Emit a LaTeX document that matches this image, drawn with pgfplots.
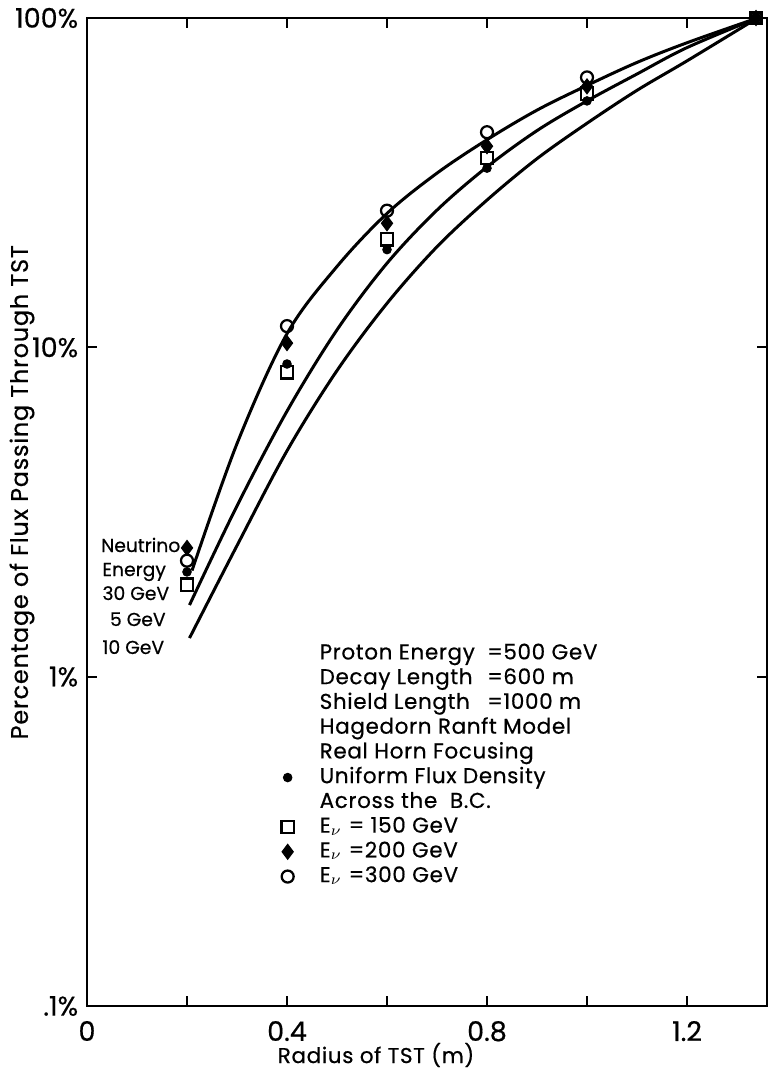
\documentclass[border=0pt]{standalone}
\usepackage{fontspec}
\setmainfont{Poppins}[FakeBold=0.5]
\newfontfamily\lab{Poppins}[FakeBold=0.5, LetterSpace=3]
\usepackage{pgfplots}
\pgfplotsset{compat=1.18}
\begin{document}
\begin{tikzpicture}
\begin{axis}[
  at={(0,0)}, anchor=south west,
  width=272pt, height=395.2pt, scale only axis,
  xmin=0, xmax=1.36, ymode=log, ymin=0.1, ymax=100,
  xtick={0,0.2,0.4,0.6,0.8,1.0,1.2}, xticklabels={0,,0.4,,0.8,,1.2},
  ytick={0.1,1,10,100}, yticklabels={.1\%,1\%,10\%,100\%},
  yminorticks=false, xminorticks=false,
  tick align=inside, major tick length=4pt,
  axis line style={line width=0.9pt},
  tick style={line width=0.7pt, black},
  /pgf/number format/assume math mode=true,
  tick label style={font=\fontsize{10.8}{12}\selectfont},
  xticklabel style={yshift=-2.5pt},
  xlabel={Radius of TST (m)},
  ylabel={Percentage of Flux Passing Through TST},
  xlabel style={font=\lab\fontsize{8.6}{10}\selectfont, at={(rel axis cs:0.425,0)}, anchor=center, yshift=-19.6pt},
  ylabel style={font=\lab\fontsize{9.6}{11}\selectfont, at={(rel axis cs:0,0.52)}, anchor=center, yshift=26pt},
  legend style={draw=none, fill=none, at={(rel axis cs:0.263,0.369)}, anchor=north west,
    font=\lab\fontsize{8.6}{10}\selectfont, row sep=0.4pt, inner sep=0pt,
    nodes={inner sep=0.5pt, text height=6.5pt, text depth=2pt},
    /tikz/every odd column/.append style={column sep=9.8pt}},
  legend cell align=left,
]
% curves
\addplot[line width=1.2pt, smooth, tension=0.55, forget plot] coordinates {
 (0.21,2.1) (0.3,5.1) (0.4,11.0) (0.5,17.6) (0.6,25.5) (0.7,33.8) (0.8,42.7) (0.9,52.5) (1.0,62.4) (1.1,73.3) (1.2,84.1) (1.341,100)};
\addplot[line width=1.2pt, smooth, tension=0.55, forget plot] coordinates {
 (0.205,1.65) (0.3,3.3) (0.4,6.4) (0.5,11.3) (0.6,18.0) (0.7,26.1) (0.8,35.3) (0.9,45.5) (1.0,56.0) (1.1,67.6) (1.2,81.3) (1.341,100)};
\addplot[line width=1.2pt, smooth, tension=0.55, forget plot] coordinates {
 (0.205,1.31) (0.3,2.5) (0.4,4.85) (0.5,8.5) (0.6,13.6) (0.7,20.2) (0.8,28.0) (0.9,37.4) (1.0,47.9) (1.1,60.3) (1.2,74.1) (1.341,100)};
% markers
\addplot[only marks, mark=*, mark size=1.7pt, black, forget plot] coordinates {
 (0.2,2.08) (0.4,8.9) (0.6,19.8) (0.8,35) (1.0,56) (1.338,100)};
\addplot[only marks, mark=square, mark size=2.5pt, line width=0.9pt, black, forget plot] coordinates {
 (0.2,1.9) (0.4,8.4) (0.6,21.3) (0.8,37.6) (1.0,59) (1.338,100)};
\addplot[only marks, mark=diamond*, mark size=3pt, black, forget plot] coordinates {
 (0.2,2.46) (0.4,10.3) (0.6,23.8) (0.8,40.8) (1.0,62) (1.338,100)};
\addplot[only marks, mark=o, mark size=2.4pt, line width=0.9pt, black, fill=white, forget plot] coordinates {
 (0.2,2.25) (0.4,11.6) (0.6,26) (0.8,45) (1.0,66) (1.338,100)};
% legend block
\addlegendimage{empty legend}\addlegendentry{\makebox[67pt][l]{Proton Energy}=500 GeV}
\addlegendimage{empty legend}\addlegendentry{\makebox[67pt][l]{Decay Length}=600 m}
\addlegendimage{empty legend}\addlegendentry{\makebox[67pt][l]{Shield Length}=1000 m}
\addlegendimage{empty legend}\addlegendentry{Hagedorn Ranft Model}
\addlegendimage{empty legend}\addlegendentry{Real Horn Focusing}
\addlegendimage{only marks, mark=*, mark size=1.7pt, black}\addlegendentry{Uniform Flux Density}
\addlegendimage{empty legend}\addlegendentry{Across the \ B.C.}
\addlegendimage{only marks, mark=square, mark size=2.5pt, line width=0.9pt, black}\addlegendentry{E$_\nu$ = 150 GeV}
\addlegendimage{only marks, mark=diamond*, mark size=3pt, black}\addlegendentry{E$_\nu$ =200 GeV}
\addlegendimage{only marks, mark=o, mark size=2.4pt, line width=0.9pt, black}\addlegendentry{E$_\nu$ =300 GeV}
% curve labels
\node[anchor=base west, font=\fontsize{7.5}{9}\selectfont, inner sep=0pt] at (rel axis cs:0.02,0.4595) {Neutrino};
\node[anchor=base west, font=\fontsize{7.5}{9}\selectfont, inner sep=0pt] at (rel axis cs:0.022,0.4352) {Energy};
\node[anchor=base west, font=\fontsize{7.5}{9}\selectfont, inner sep=0pt] at (rel axis cs:0.022,0.4109) {30 GeV};
\node[anchor=base west, font=\fontsize{7.5}{9}\selectfont, inner sep=0pt] at (rel axis cs:0.033,0.3846) {5 GeV};
\node[anchor=base west, font=\fontsize{7.5}{9}\selectfont, inner sep=0pt] at (rel axis cs:0.022,0.3563) {10 GeV};
\end{axis}
\pgfresetboundingbox
\path[use as bounding box] (-34.8pt,-24.8pt) rectangle (272.8pt,402.4pt);
\end{tikzpicture}
\end{document}
